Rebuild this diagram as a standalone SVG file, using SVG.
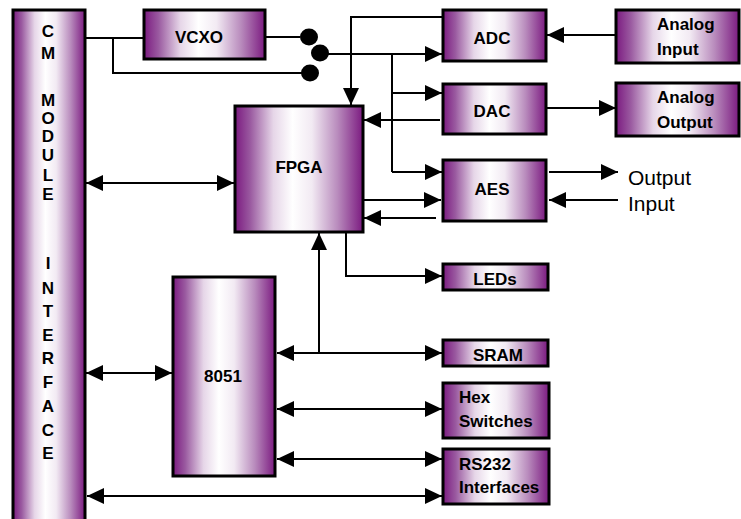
<svg xmlns="http://www.w3.org/2000/svg" width="741" height="519" viewBox="0 0 741 519">
<defs>
<linearGradient id="pg" x1="0" y1="0" x2="1" y2="0">
<stop offset="0" stop-color="#7b1a80"/>
<stop offset="0.12" stop-color="#9a5aa0"/>
<stop offset="0.3" stop-color="#e6d6e8"/>
<stop offset="0.45" stop-color="#ffffff"/>
<stop offset="0.6" stop-color="#f2eaf3"/>
<stop offset="0.8" stop-color="#b98cbd"/>
<stop offset="1" stop-color="#7b1a80"/>
</linearGradient>
<marker id="ah" markerUnits="userSpaceOnUse" markerWidth="17" markerHeight="16" refX="17" refY="8" orient="auto-start-reverse" viewBox="0 0 17 16">
<path d="M0,0 L17,8 L0,16 Z" fill="#000"/>
</marker>
</defs>
<style>
.box{fill:url(#pg);stroke:#000;stroke-width:3}
.t{font-family:"Liberation Sans",Arial,sans-serif;font-weight:bold;font-size:17px;fill:#000}
.c{text-anchor:middle}
.r{font-family:"Liberation Sans",Arial,sans-serif;font-size:21px;fill:#000}
.w{fill:none;stroke:#000;stroke-width:2}
.a{marker-end:url(#ah)}
.d{marker-start:url(#ah);marker-end:url(#ah)}
</style>
<g id="cm">
<rect class="box" x="13" y="10" width="72" height="512"/>
<text class="t c" font-size="16"><tspan x="48" y="37">C</tspan><tspan x="48" y="59">M</tspan><tspan x="48" y="106">M</tspan><tspan x="48" y="124">O</tspan><tspan x="48" y="142">D</tspan><tspan x="48" y="161">U</tspan><tspan x="48" y="181">L</tspan><tspan x="48" y="200">E</tspan><tspan x="48" y="269">I</tspan><tspan x="48" y="294">N</tspan><tspan x="48" y="317">T</tspan><tspan x="48" y="341">E</tspan><tspan x="48" y="364">R</tspan><tspan x="48" y="388">F</tspan><tspan x="48" y="412">A</tspan><tspan x="48" y="436">C</tspan><tspan x="48" y="459">E</tspan></text>
</g>
<g id="vcxo"><rect class="box" x="144" y="10" width="121" height="49"/><text class="t c" x="199" y="43">VCXO</text></g>
<g id="adc"><rect class="box" x="443" y="10" width="103" height="51"/><text class="t c" x="492" y="44">ADC</text></g>
<g id="analog-input"><rect class="box" x="616" y="10" width="123" height="53"/><text class="t" x="657" y="30">Analog</text><text class="t" x="657" y="55">Input</text></g>
<g id="dac"><rect class="box" x="443" y="84" width="103" height="50"/><text class="t c" x="492" y="117">DAC</text></g>
<g id="analog-output"><rect class="box" x="616" y="83" width="123" height="53"/><text class="t" x="657" y="103">Analog</text><text class="t" x="657" y="128">Output</text></g>
<g id="fpga"><rect class="box" x="235" y="106" width="128" height="126"/><text class="t c" x="299" y="173">FPGA</text></g>
<g id="aes"><rect class="box" x="443" y="160" width="103" height="61"/><text class="t c" x="492" y="195">AES</text></g>
<g id="leds"><rect class="box" x="443" y="264" width="105" height="26"/><text class="t c" x="495" y="285">LEDs</text></g>
<g id="sram"><rect class="box" x="443" y="340" width="105" height="26"/><text class="t c" x="498" y="361">SRAM</text></g>
<g id="hex"><rect class="box" x="443" y="383" width="106" height="55"/><text class="t" x="459" y="403">Hex</text><text class="t" x="459" y="427">Switches</text></g>
<g id="rs232"><rect class="box" x="443" y="449" width="106" height="55"/><text class="t" x="459" y="470">RS232</text><text class="t" x="459" y="493">Interfaces</text></g>
<g id="i8051"><rect class="box" x="173" y="277" width="102" height="199"/><text class="t c" x="223" y="382" font-weight="normal">8051</text></g>
<g id="labels"><text class="r" x="628" y="185">Output</text><text class="r" x="628" y="211">Input</text></g>
<g id="connectors">
<path class="w" d="M85,38 H144"/>
<path class="w" d="M113,38 V73 H302"/>
<path class="w" d="M265,37 H300"/>
<ellipse cx="309" cy="37" rx="9" ry="8.5"/>
<ellipse cx="320" cy="53" rx="9" ry="8.5"/>
<ellipse cx="310" cy="73" rx="9" ry="8.5"/>
<path class="w a" d="M320,54 H442"/>
<path class="w a" d="M443,17 H351 V105"/>
<path class="w" d="M392,54 V172"/>
<path class="w a" d="M392,93 H442"/>
<path class="w a" d="M392,172 H442"/>
<path class="w a" d="M440,120 H364"/>
<path class="w a" d="M616,35 H547"/>
<path class="w a" d="M546,108 H616"/>
<path class="w a" d="M363,200 H441"/>
<path class="w a" d="M436,218 H364"/>
<path class="w a" d="M549,172 H618"/>
<path class="w a" d="M618,200 H549"/>
<path class="w d" d="M86,183 H234"/>
<path class="w a" d="M346,232 V276 H442"/>
<path class="w a" d="M319,353 V233"/>
<path class="w d" d="M277,353 H442"/>
<path class="w d" d="M277,409 H442"/>
<path class="w d" d="M277,459 H442"/>
<path class="w d" d="M87,496 H442"/>
<path class="w d" d="M86,373 H172"/>
</g>
</svg>
